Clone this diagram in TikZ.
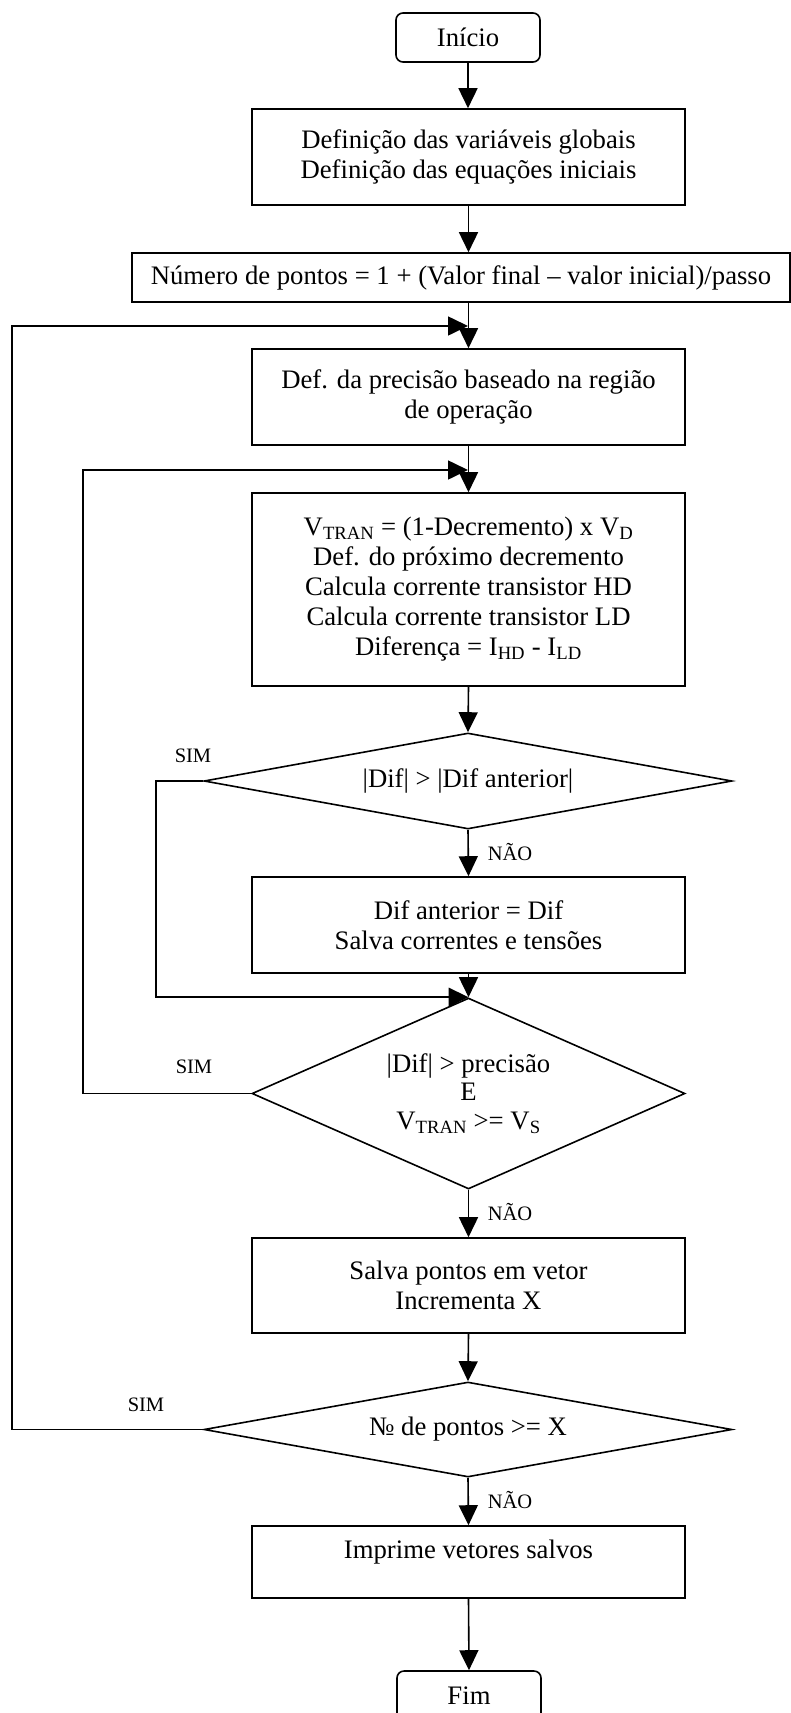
\documentclass[tikz,border=0pt]{standalone}
\usepackage{fontspec}
\setmainfont{Liberation Serif}
\usetikzlibrary{shapes.geometric,arrows.meta}
\begin{document}
\begin{tikzpicture}[x=1pt,y=-1pt,
  every node/.style={font=\fontsize{26.7}{30}\selectfont},
  box/.style={draw, line width=1.6pt, rectangle, minimum width=433pt, inner sep=0pt, align=center},
  term/.style={draw, line width=1.6pt, rounded corners=7pt, minimum width=144pt, minimum height=49pt, inner sep=0pt},
  dec/.style={draw, line width=1.6pt, diamond, inner sep=0pt, align=center},
  lbl/.style={font=\fontsize{20.5}{24}\selectfont, inner sep=0pt},
  arr/.style={line width=1.6pt, -{Triangle[length=20pt,width=19pt]}},
  loopline/.style={line width=1.6pt, -{Triangle[length=20pt,width=19pt]}}
]
\fill[white] (0,0) rectangle (791,1713);
\useasboundingbox (0,0) rectangle (791,1713);

% nodes
\node[term] (start) at (468,37.5) {Início};
\node[box, minimum height=96pt] (b1) at (468.5,157) {Definição das variáveis globais\\Definição das equações iniciais};
\node[box, minimum width=658pt, minimum height=49pt] (b2) at (461,277.5) {Número de pontos = 1 + (Valor final – valor inicial)/passo};
\node[box, minimum height=96pt] (b3) at (468.5,397) {Def. da precisão baseado na região\\de operação};
\node[box, minimum height=193pt] (b4) at (468.5,589.5) {V\textsubscript{TRAN} = (1-Decremento) x V\textsubscript{D}\\Def. do próximo decremento\\Calcula corrente transistor HD\\Calcula corrente transistor LD\\Diferença = I\textsubscript{HD} - I\textsubscript{LD}};
\node[dec, minimum width=528pt, minimum height=96pt, aspect=5.5] (d1) at (468,781) {|Dif| > |Dif anterior|};
\node[box, minimum height=96pt] (b5) at (468.5,925) {Dif anterior = Dif\\Salva correntes e tensões};
\node[dec, minimum width=433pt, minimum height=191pt, aspect=2.27, font=\fontsize{26.7}{28.5}\selectfont] (d2) at (468.5,1093.5) {|Dif| > precisão\\E\\V\textsubscript{TRAN} >= V\textsubscript{S}};
\node[box, minimum height=95pt] (b6) at (468.5,1285.5) {Salva pontos em vetor\\Incrementa X};
\node[dec, minimum width=528pt, minimum height=95pt, aspect=5.5] (d3) at (468,1429.5) {№ de pontos >= X};
\node[box, minimum height=72pt] (b7) at (468.5,1562) {};
\node (t7) at (468.5,1552) {Imprime vetores salvos};
\node[term] (end) at (469,1695.5) {Fim};

% labels
\node[lbl] (s1) at (193,756) {SIM};
\node[lbl] (s2) at (194,1067) {SIM};
\node[lbl] (s3) at (146,1405) {SIM};
\node[lbl] (n1) at (510,852) {NÃO};
\node[lbl] (n2) at (510,1212) {NÃO};
\node[lbl] (n3) at (510,1500) {NÃO};

% junction coordinates
\coordinate (j1) at (468,326);
\coordinate (j2) at (468,470);
\coordinate (c1) at (12,0);
\coordinate (c2) at (83,0);
\coordinate (c3) at (156,0);

% main flow
\draw[arr] (start.south) -- (start.south |- b1.north);
\draw[arr] (b1.south) -- (b1.south |- b2.north);
\draw[arr] (b2.south -| b3.north) -- (b3.north);
\draw[arr] (b3.south) -- (b4.north);
\draw[arr] (b4.south) -- (d1.north);
\draw[arr] (d1.south) -- (b5.north);
\draw[arr] (b5.south) -- (d2.north);
\draw[arr] (d2.south) -- (b6.north);
\draw[arr] (b6.south) -- (d3.north);
\draw[arr] (d3.south) -- (b7.north);
\draw[arr] (b7.south) -- (end.north);

% loops
\draw[loopline] (d1.west) -- (d1.west -| c3) |- (d2.north);
\draw[loopline] (d2.west) -- (d2.west -| c2) |- (j2);
\draw[loopline] (d3.west) -- (d3.west -| c1) |- (j1);
\end{tikzpicture}
\end{document}
